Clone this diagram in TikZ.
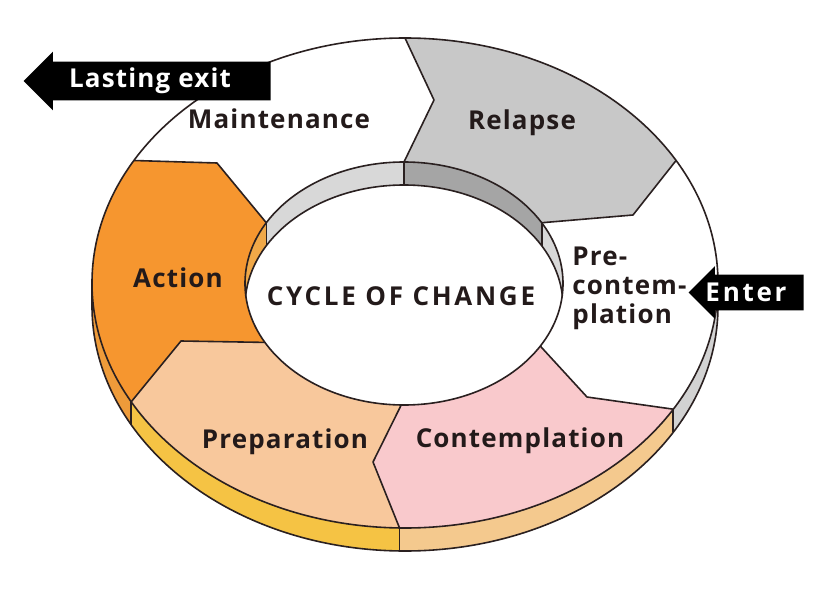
\documentclass[tikz,border=0pt]{standalone}
\usepackage{fontspec}
\setmainfont{Open Sans}
\newfontfamily\stagefont[LetterSpace=4.5]{Open Sans}
\newfontfamily\widefont[LetterSpace=10.5]{Open Sans}
\usetikzlibrary{calc,shapes.arrows}

\definecolor{inkline}{HTML}{2A2020}
\definecolor{inktext}{HTML}{231A1A}
\definecolor{relapsegray}{HTML}{C8C8C8}
\definecolor{contpink}{HTML}{F9C9CC}
\definecolor{preppeach}{HTML}{F8C89C}
\definecolor{actionorange}{HTML}{F6962F}
\definecolor{sidegray}{HTML}{D2D2D2}
\definecolor{sidetan}{HTML}{F4C98E}
\definecolor{sideyellow}{HTML}{F5C344}
\definecolor{sideorange}{HTML}{EE9B3A}
\definecolor{wallgray}{HTML}{D8D8D8}
\definecolor{walldark}{HTML}{A5A5A5}
\definecolor{wallorange}{HTML}{F0A848}

% ring outlines (top face and bottom edge)
\newcommand{\outertop}{(405,283) ellipse [x radius=313, y radius=245]}
\newcommand{\outerbot}{(405,306) ellipse [x radius=313, y radius=245]}
\newcommand{\innertop}{(404,283.5) ellipse [x radius=159, y radius=121.5]}
\newcommand{\innerbot}{(404,306.5) ellipse [x radius=159, y radius=121.5]}

\tikzset{
  ring line/.style={draw=inkline, line width=0.8pt, line join=round},
  stage label/.style={font=\stagefont\bfseries\fontsize{13}{14.5}\selectfont,
    text=inktext, inner sep=0pt},
  exit arrow/.style={single arrow, shape border rotate=180, fill=black, draw=none,
    inner xsep=0pt, text height=0pt, text depth=0pt},
  arrow label/.style={font=\bfseries\fontsize{13}{15}\selectfont, text=white, inner sep=0pt}
}

\begin{document}
\begin{tikzpicture}[x=0.5pt, y=-0.5pt]
  \useasboundingbox (0,0) rectangle (826,594);

  % centres
  \coordinate (c) at (405,283);
  \coordinate (cw) at (404,306.5);

  % stage borders: angle on the ellipses / tip of the chevron
  \foreach \n/\t/\mx/\my in {1/-90/434/100, 2/-30/633/215, 3/31/587/397,
                             4/91/373/462, 5/151/181/341, 6/210/217/163}{
    \coordinate (o\n)  at ({405+313*cos(\t)},{283+245*sin(\t)});
    \coordinate (ol\n) at ({405+313*cos(\t)},{306+245*sin(\t)});
    \coordinate (of\n) at ({405+470*cos(\t)},{306+368*sin(\t)});
    \coordinate (og\n) at ({405+470*cos(\t)},{283+368*sin(\t)});
    \coordinate (i\n)  at ({404+159*cos(\t)},{283.5+121.5*sin(\t)});
    \coordinate (il\n) at ({404+159*cos(\t)},{306.5+121.5*sin(\t)});
    \coordinate (if\n) at ({404+250*cos(\t)},{283.5+190*sin(\t)});
    \coordinate (m\n)  at (\mx,\my);
  }

  % outer side of the ring
  \begin{scope}
    \clip \outerbot;
    \foreach \a/\b/\col in {2/3/sidegray, 3/4/sidetan, 4/5/sideyellow, 5/6/sideorange}
      \fill[\col] (c) -- (o\a) -- (ol\a) -- (of\a) -- (of\b) -- (ol\b) -- (o\b) -- cycle;
  \end{scope}
  \draw[ring line] (718,283) -- (718,306)
    arc[start angle=0, end angle=180, x radius=313, y radius=245] -- (92,283);
  \foreach \n in {3,4,5}
    \draw[ring line] (o\n) -- (ol\n);

  % top face
  \fill[white] \outertop;
  \begin{scope}
    \clip \outertop;
    \foreach \a/\b/\col in {1/2/relapsegray, 2/3/white, 3/4/contpink,
                            4/5/preppeach, 5/6/actionorange, 6/1/white}
      \fill[\col] (c) -- (i\a) -- (m\a) -- (o\a) -- (og\a) -- (og\b)
        -- (o\b) -- (m\b) -- (i\b) -- cycle;
  \end{scope}
  \foreach \n in {1,...,6}
    \draw[ring line] (i\n) -- (m\n) -- (o\n);
  \draw[ring line] \outertop;

  % hole with inner wall
  \begin{scope}
    \clip \innertop;
    \foreach \a/\b/\col in {5/6/wallorange, 6/1/wallgray, 1/2/walldark, 2/3/wallgray}
      \fill[\col] (cw) -- (il\a) -- (i\a) -- (if\a) -- (if\b) -- (i\b) -- (il\b) -- cycle;
    \fill[white] \innerbot;
    \draw[ring line] \innerbot;
    \foreach \n in {6,1,2}
      \draw[ring line] (i\n) -- (il\n);
  \end{scope}
  \draw[ring line] \innertop;

  % labels
  \node[stage label, anchor=base] (maint) at (279,128) {Maintenance};
  \node[stage label, anchor=base] (relapse) at (522,129) {Relapse};
  \node[stage label, anchor=north west, align=left] (precont) at (572,246.5)
    {Pre-\\contem-\\plation};
  \node[stage label, anchor=base] (contemp) at (520,447) {Contemplation};
  \node[stage label, anchor=base] (prep) at (285,448) {Preparation};
  \node[stage label, anchor=base] (action) at (178,287) {Action};
  \node[stage label, anchor=base, font=\widefont\bfseries\fontsize{13}{14.5}\selectfont]
    (cycle) at (401,305) {CYCLE OF CHANGE};

  % way out and way in
  \node[exit arrow, anchor=tip, minimum height=123.5pt, inner ysep=9.5pt,
    single arrow head extend=5pt] (exit) at (23,81) {};
  \node[arrow label, font=\stagefont\bfseries\fontsize{13}{15}\selectfont, anchor=base]
    (exittext) at (150,87) {Lasting exit};
  \node[exit arrow, anchor=tip, minimum height=57.5pt, inner ysep=8.75pt,
    single arrow head extend=4.25pt] (enter) at (688,292.5) {};
  \node[arrow label, font=\widefont\bfseries\fontsize{13}{15}\selectfont, anchor=base]
    (entertext) at (746,301) {Enter};
\end{tikzpicture}
\end{document}
